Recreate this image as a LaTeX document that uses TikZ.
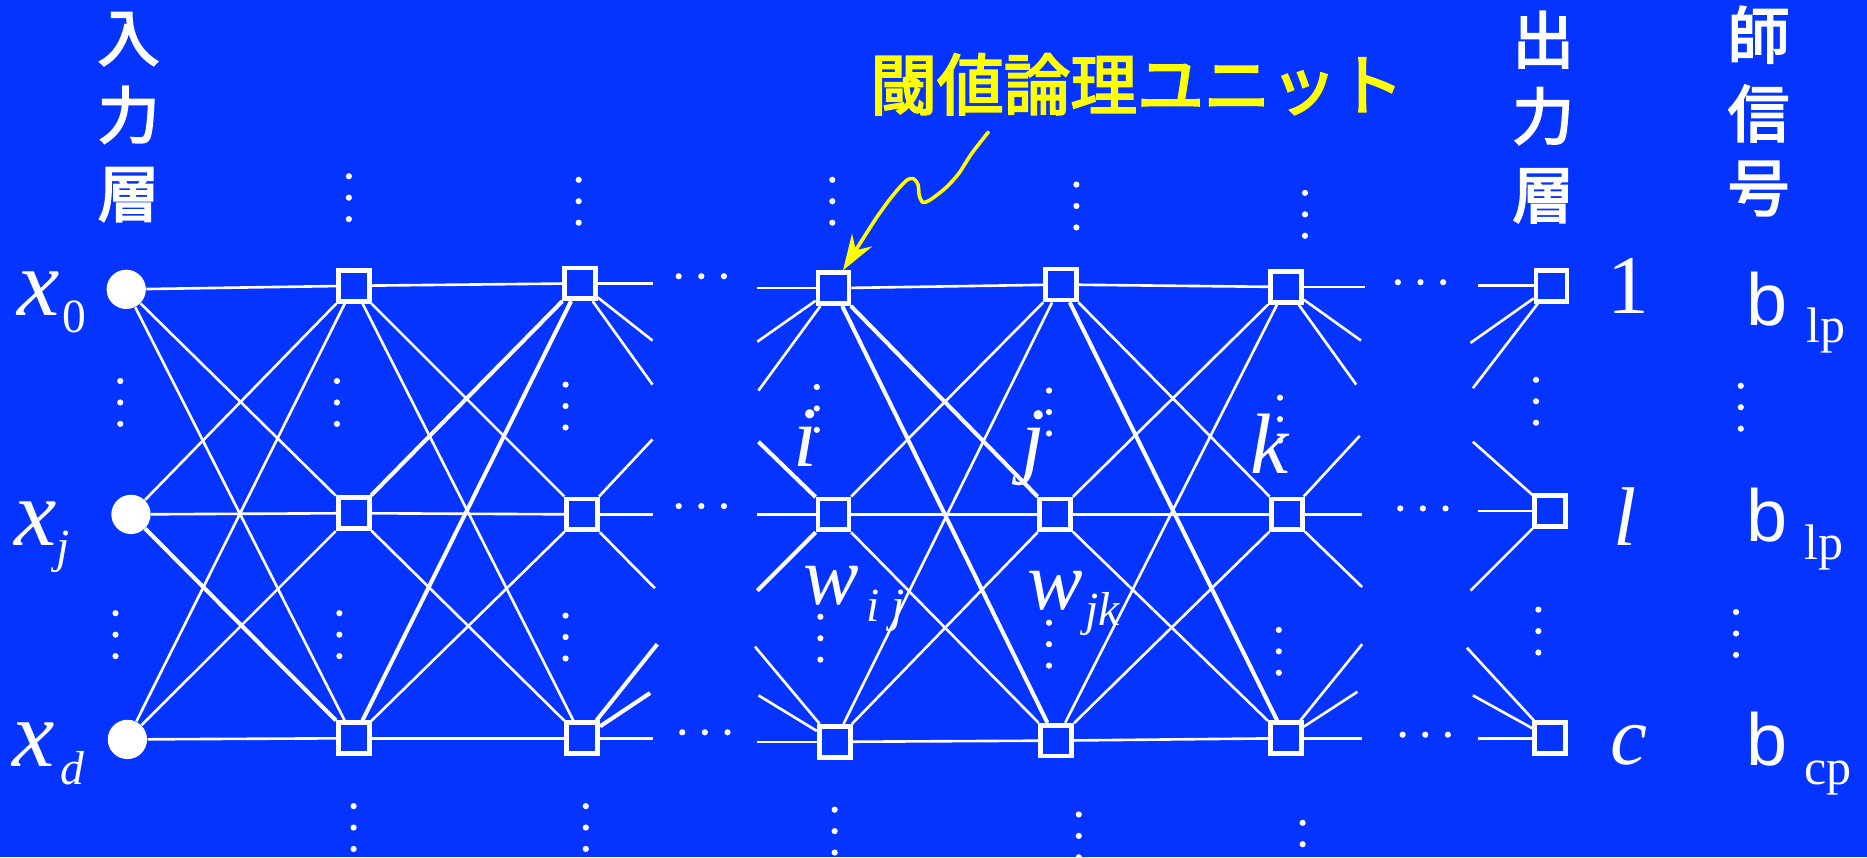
\documentclass[tikz,border=0pt]{standalone}
\usepackage{fontspec}
\setmainfont{Liberation Serif}
\newfontfamily\cjkfont{Noto Sans CJK JP}[FakeBold=3]
\newfontfamily\arialfont{Liberation Sans}
\usetikzlibrary{arrows.meta}
\definecolor{bgblue}{RGB}{5,51,255}
\definecolor{ylw}{RGB}{255,255,0}
\begin{document}
\begin{tikzpicture}[x=0.5pt,y=-0.5pt,
  unitbox/.style={draw=white, fill=bgblue, line width=2pt, minimum size=13pt, inner sep=0pt, shape=rectangle},
  inp/.style={circle, fill=white, minimum size=16.5pt, inner sep=0pt},
  conn/.style={white, line width=1.1pt},
  thk/.style={white, line width=1.7pt},
  lbl/.style={text=white, inner sep=0pt, anchor=base west},
  bigx/.style={lbl, font=\fontsize{40}{40}\selectfont\itshape},
  subn/.style={lbl, font=\fontsize{20}{20}\selectfont},
  subi/.style={lbl, font=\fontsize{20}{20}\selectfont\itshape},
  midit/.style={lbl, anchor=base, font=\fontsize{36}{36}\selectfont\itshape},
  wlab/.style={lbl, anchor=base, font=\fontsize{35}{35}\selectfont\itshape},
  wsub/.style={lbl, font=\fontsize{20}{20}\selectfont\itshape},
  outlab/.style={lbl, font=\fontsize{35}{35}\selectfont},
  blab/.style={lbl, font=\arialfont\fontsize{31}{31}\selectfont},
  bsub/.style={lbl, font=\fontsize{21}{21}\selectfont},
  cjkv/.style={text=white, inner sep=0pt, anchor=base, font=\cjkfont\fontsize{26}{26}\selectfont},
  cjky/.style={text=ylw, inner sep=0pt, anchor=base, font=\cjkfont\fontsize{28}{28}\selectfont}
]
\path[use as bounding box, fill=bgblue] (0,0) rectangle (1568,720);

% input units
\node[inp] (in0) at (106,243) {};
\node[inp] (in1) at (110,432) {};
\node[inp] (in2) at (107,621) {};
% threshold units
\foreach \n/\x/\y in {A0/297/240, A1/297/431, A2/297/620,
  B0/487/238, B1/489/432, B2/489/620,
  C0/700/242, C1/700/432, C2/701/623,
  D0/891/239, D1/886/432, D2/887/622,
  E0/1080/241, E1/1081/432, E2/1080/620,
  O0/1303/240, O1/1302/429, O2/1302/620}
  \node[unitbox] (\n) at (\x,\y) {};

% free ends of stub connectors
\foreach \n/\x/\y in {
 b0h/548/238, b0a/548/286, b0b/548/323,
 b1a/548/369, b1h/548/432, b1b/550/494,
 b2a/552/541, b2b/546/582, b2h/548/620,
 c0h/636/242, c0a/636/287, c0b/637/328,
 c1a/637/371, c1h/636/432, c1b/636/496,
 c2a/634/543, c2b/637/584, c2h/636/623,
 e0h/1146/241, e0a/1143/286, e0b/1139/323,
 e1a/1142/366, e1h/1144/432, e1b/1144/493,
 e2a/1144/541, e2b/1140/581, e2h/1144/620,
 o0h/1241/240, o0a/1235/288, o0b/1237/326,
 o1a/1237/371, o1h/1241/429, o1b/1235/496,
 o2a/1232/544, o2b/1237/584, o2h/1241/620}
 \coordinate (\n) at (\x,\y);

% full connections
\foreach \a in {0,1,2}{\foreach \b in {0,1,2}{
  \draw[conn] (in\a) -- (A\b);
  \draw[conn] (A\a) -- (B\b);
  \draw[conn] (C\a) -- (D\b);
  \draw[conn] (D\a) -- (E\b);
}}
% thicker connections
\draw[thk] (in1) -- (A2);
\draw[thk] (A2) -- (B0);
\draw[thk] (A1) -- (B0);
\draw[thk] (C0) -- (D1);
\draw[thk] (C0) -- (D2);
\draw[thk] (D0) -- (E2);

% stubs
\foreach \n/\c in {B0/b0h,B0/b0a,B0/b0b,B1/b1a,B1/b1h,B1/b1b,B2/b2h,
  C0/c0h,C0/c0a,C0/c0b,C1/c1h,C2/c2a,C2/c2b,C2/c2h,
  E0/e0h,E0/e0a,E0/e0b,E1/e1a,E1/e1h,E1/e1b,E2/e2a,E2/e2b,E2/e2h,
  O0/o0h,O0/o0a,O0/o0b,O1/o1a,O1/o1h,O1/o1b,O2/o2a,O2/o2b,O2/o2h}
  \draw[conn] (\n) -- (\c);
\foreach \n/\c in {B2/b2a,B2/b2b,C1/c1a,C1/c1b}
  \draw[thk] (\n) -- (\c);

% vertical dots
\foreach \x/\y in {101/320, 97/515,
  293/148, 283/320, 285/515, 297/677,
  486/151, 475/323, 475/517, 492/677,
  699/151, 686/325, 689/518, 701/680,
  904/155, 881/328, 881/523, 906/684,
  1096/162, 1075/334, 1074/529, 1094/691,
  1290/319, 1292/512, 1462/324, 1458/514}
  \foreach \k in {0,1,2} \fill[white] (\x,\y+18*\k) circle (1.3pt);
% horizontal dots
\foreach \x/\y in {570/232, 570/425, 573/615, 1174/237, 1176/427, 1178/617}
  \foreach \k in {0,1,2} \fill[white] (\x+19*\k,\y) circle (1.3pt);

% input labels
\node[bigx] (lx0) at (14,265) {x};
\node[subn] (lx0s) at (52,279) {0};
\node[bigx] (lxj) at (12,458) {x};
\node[subi] (lxjs) at (47,472) {j};
\node[bigx] (lxd) at (10,644) {x};
\node[subi] (lxds) at (50,659) {d};

% hidden layer labels
\node[midit] (li) at (676,392) {i};
\node[midit] (lj) at (868,393) {j};
\node[midit] (lk) at (1066,398) {k};
\node[wlab] (lw1) at (698,508) {w};
\node[wsub] (lw1s) at (727,522) {i j};
\node[wlab] (lw2) at (886,512) {w};
\node[wsub] (lw2s) at (911,525) {jk};

% output labels
\node[outlab] (l1) at (1350,263) {1};
\node[outlab, font=\fontsize{35}{35}\selectfont\itshape] (ll) at (1355,458) {l};
\node[outlab, font=\fontsize{35}{35}\selectfont\itshape] (lc) at (1352,642) {c};

% teacher signal labels
\node[blab] (b1) at (1466,273) {b};
\node[bsub] (b1s) at (1517,288) {lp};
\node[blab] (b2) at (1466,455) {b};
\node[bsub] (b2s) at (1515,470) {lp};
\node[blab] (b3) at (1466,643) {b};
\node[bsub] (b3s) at (1515,659) {cp};

% vertical headings
\node[cjkv] (h1a) at (108,51) {入};
\node[cjkv] (h1b) at (108,116) {力};
\node[cjkv] (h1c) at (108,182) {層};
\node[cjkv] (h2a) at (1296,53) {出};
\node[cjkv] (h2b) at (1296,117) {力};
\node[cjkv] (h2c) at (1296,183) {層};
\node[cjkv] (h3a) at (1477,49) {師};
\node[cjkv] (h3b) at (1477,115) {信};
\node[cjkv] (h3c) at (1477,177) {号};

% yellow annotation
\node[cjky] (title) at (955,92) {閾値論理ユニット};
\coordinate (arrstart) at (830,111);
\draw[ylw, line width=1.5pt, line cap=round, line join=round,
  -{Stealth[length=15pt,width=10pt,inset=5pt]}]
  plot[smooth, tension=0.45] coordinates {(arrstart) (816,129) (805,146) (794,158) (781,168)
   (775,170) (772,164) (771,155) (767,150) (762,151) (755,158) (746,169) (736,183) (727,197) ([xshift=4pt]C0.north)};
\end{tikzpicture}
\end{document}
